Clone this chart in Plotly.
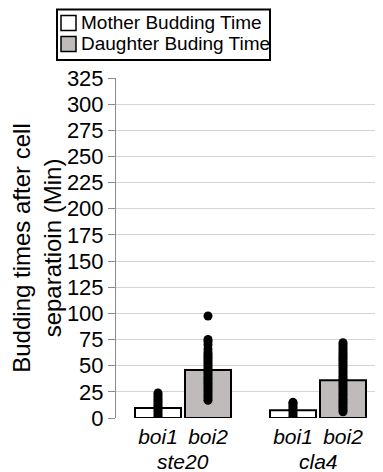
import plotly.graph_objects as go

strains = ["ste20", "cla4"]
cell_types = ["boi1", "boi2"]
series_names = ["Mother Budding Time", "Daughter Buding Time"]

# mean bar heights (minutes)
mother_means = [9.5, 7.5]
daughter_means = [46, 36]

# individual points
ste20_boi1_pts = [0, 2, 4, 6, 8, 10, 12, 14, 16, 18, 20, 22, 24]
ste20_boi2_pts = [17, 19, 21, 23, 25, 27, 29, 31, 33, 35, 37, 39, 41, 43, 45, 47, 49,
                  51, 53, 55, 57, 59, 61, 63, 66, 70, 73, 75, 97.5]
cla4_boi1_pts = [0, 2, 4, 6, 8, 10, 12, 14, 15]
cla4_boi2_pts = [6, 8, 10, 12, 14, 16, 18, 20, 22, 24, 26, 28, 30, 32, 34, 36, 38,
                 40, 42, 44, 46, 48, 50, 52, 54, 56, 58, 60, 62, 64, 66, 68, 70, 72]

y_ticks = list(range(0, 326, 25))

# ---- layout geometry ----
# the page body adds an 8px offset, so the figure is 8px smaller and all
# screen coordinates below are shifted by OFF
OFF = 8
SW, SH = 383, 472
W, H = SW - OFF, SH - OFF
PLOT_L, PLOT_R, PLOT_T, PLOT_B = 116, 380, 78, 418   # screen pixels
L = PLOT_L - OFF
T = PLOT_T - OFF
R = W - (PLOT_R - OFF)
B = H - (PLOT_B - OFF)
PW, PH = W - L - R, H - T - B

def px(x):
    return (x - OFF - L) / PW

def py(y):
    return (H - B - (y - OFF)) / PH

group_offset = [0.0, 2.7]
mother_x = [g + 0.0 for g in group_offset]
daughter_x = [g + 1.0 for g in group_offset]

FONT = "Arial, Liberation Sans, sans-serif"
GRAY = "#bfbbbb"
colors = ["white", GRAY]

fig = go.Figure()
fig.add_trace(go.Bar(x=mother_x, y=mother_means, width=0.92, name=series_names[0],
                     showlegend=False,
                     marker=dict(color=colors[0], line=dict(color="black", width=2))))
fig.add_trace(go.Bar(x=daughter_x, y=daughter_means, width=0.92, name=series_names[1],
                     showlegend=False,
                     marker=dict(color=colors[1], line=dict(color="black", width=2))))

pts = [(mother_x[0], ste20_boi1_pts), (daughter_x[0], ste20_boi2_pts),
       (mother_x[1], cla4_boi1_pts), (daughter_x[1], cla4_boi2_pts)]
for xp, vals in pts:
    fig.add_trace(go.Scatter(x=[xp] * len(vals), y=vals, mode="markers", showlegend=False,
                             marker=dict(color="black", size=9, line=dict(width=0))))

tickvals = mother_x + daughter_x
ticktext = ["<i>%s</i>" % cell_types[0]] * 2 + ["<i>%s</i>" % cell_types[1]] * 2

fig.update_layout(
    width=W, height=H,
    margin=dict(l=L, r=R, t=T, b=B, autoexpand=False),
    plot_bgcolor="white", paper_bgcolor="white",
    font=dict(family=FONT, color="black", size=22),
    barmode="overlay",
    showlegend=False,
    xaxis=dict(range=[-0.84, 4.44], tickvals=tickvals, ticktext=ticktext,
               showgrid=False, zeroline=False, showline=False, ticks="",
               tickfont=dict(size=21), automargin=False, ticklabelstandoff=4),
    yaxis=dict(range=[0, 325], tickvals=y_ticks, showgrid=True, gridcolor="#d4d4d4",
               gridwidth=1, zeroline=False, showline=True, linecolor="#8c8c8c",
               linewidth=1, ticks="outside", ticklen=7, tickcolor="#8c8c8c",
               tickfont=dict(size=22), automargin=False,
               title=dict(text="Budding times after cell<br>separatioin (Min)",
                          font=dict(size=24), standoff=4)),
)

# group labels
for i, s in enumerate(strains):
    fig.add_annotation(x=group_offset[i] + 0.5, y=0, xref="x", yref="paper",
                       text="<i>%s</i>" % s, showarrow=False, yanchor="middle",
                       yshift=-43, font=dict(size=21))

# legend box (drawn manually to match the reference layout)
fig.add_shape(type="rect", xref="paper", yref="paper",
              x0=px(57), x1=px(270), y0=py(60), y1=py(9.5),
              line=dict(color="black", width=2), fillcolor="white", layer="above")
row_centers = [23, 44]
for name, col, yc in zip(series_names, colors, row_centers):
    fig.add_shape(type="rect", xref="paper", yref="paper",
                  x0=px(61), x1=px(76), y0=py(yc + 7.5), y1=py(yc - 7.5),
                  line=dict(color="black", width=1.5), fillcolor=col, layer="above")
    fig.add_annotation(x=px(79), y=py(yc), xref="paper", yref="paper", text=name,
                       showarrow=False, xanchor="left", yanchor="middle",
                       font=dict(size=19))

fig.write_html("out.html")
